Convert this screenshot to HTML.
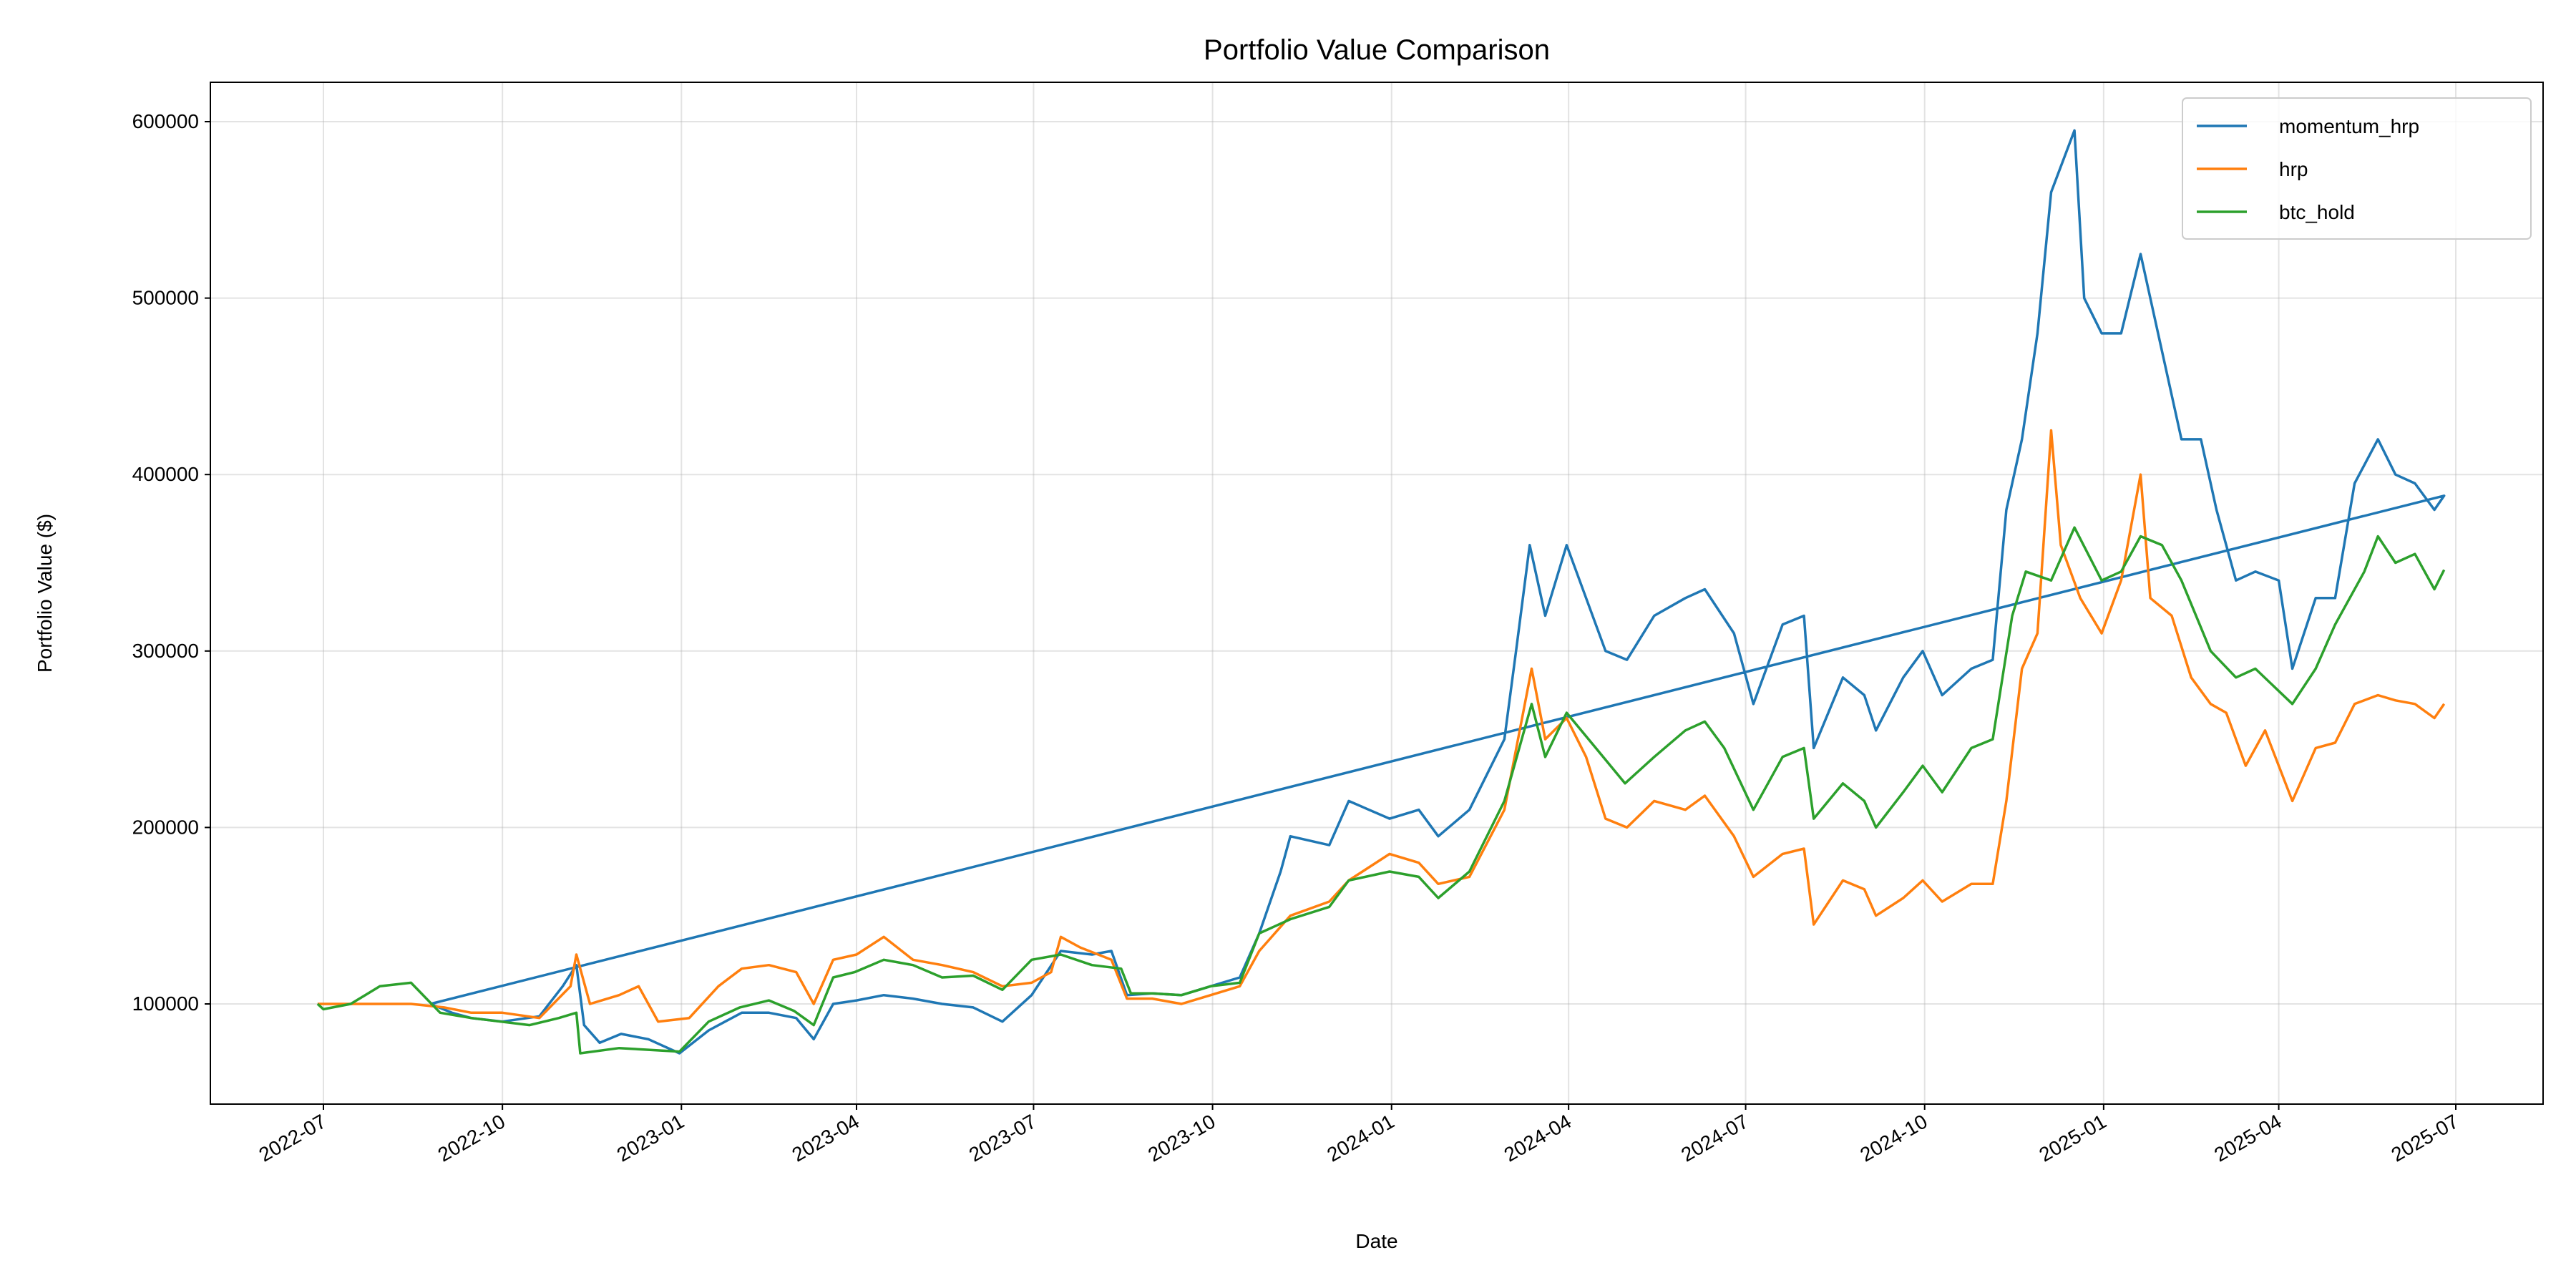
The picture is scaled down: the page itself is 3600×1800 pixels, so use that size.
<!DOCTYPE html>
<html><head><meta charset="utf-8"><style>
html,body{margin:0;padding:0;background:#fff;}
svg{display:block;font-family:"Liberation Sans","DejaVu Sans",sans-serif;}
</style></head><body>
<svg id="chart" width="3600" height="1800" viewBox="0 0 3600 1800" xmlns="http://www.w3.org/2000/svg">
<rect width="3600" height="1800" fill="#fff"/>
<text x="1924" y="83" font-size="40" text-anchor="middle">Portfolio Value Comparison</text>
<text x="1924" y="1744" font-size="28" text-anchor="middle">Date</text>
<text transform="translate(72,829) rotate(-90)" font-size="28" text-anchor="middle">Portfolio Value ($)</text>
<g id="grid"></g><g id="series"></g><g id="axes"></g>
<g>
<rect x="3050" y="137" width="487" height="197" fill="#fff" fill-opacity="0.8" stroke="#ccc" stroke-width="2" rx="6"/>
<line x1="3070" y1="176" x2="3140" y2="176" stroke="#1f77b4" stroke-width="3.5"/>
<text x="3185" y="186" font-size="28">momentum_hrp</text>
<line x1="3070" y1="236" x2="3140" y2="236" stroke="#ff7f0e" stroke-width="3.5"/>
<text x="3185" y="246" font-size="28">hrp</text>
<line x1="3070" y1="296" x2="3140" y2="296" stroke="#2ca02c" stroke-width="3.5"/>
<text x="3185" y="306" font-size="28">btc_hold</text>
</g>
</svg>
<script>
const btcDates=["2022-06-28","2022-07-01","2022-07-15","2022-07-30","2022-08-15","2022-08-30","2022-09-15","2022-09-30","2022-10-15","2022-10-30","2022-11-08","2022-11-10","2022-11-30","2022-12-15","2022-12-31","2023-01-15","2023-01-31","2023-02-15","2023-02-28","2023-03-10","2023-03-20","2023-03-31","2023-04-15","2023-04-30","2023-05-15","2023-05-31","2023-06-15","2023-06-30","2023-07-15","2023-07-31","2023-08-15","2023-08-20","2023-08-31","2023-09-15","2023-09-30","2023-10-15","2023-10-25","2023-11-10","2023-11-30","2023-12-10","2023-12-31","2024-01-15","2024-01-25","2024-02-10","2024-02-28","2024-03-13","2024-03-20","2024-03-31","2024-04-15","2024-04-30","2024-05-15","2024-05-31","2024-06-10","2024-06-20","2024-07-05","2024-07-20","2024-07-31","2024-08-05","2024-08-20","2024-08-31","2024-09-06","2024-09-20","2024-09-30","2024-10-10","2024-10-25","2024-11-05","2024-11-15","2024-11-22","2024-12-05","2024-12-17","2024-12-31","2025-01-10","2025-01-20","2025-01-31","2025-02-10","2025-02-25","2025-03-10","2025-03-20","2025-04-08","2025-04-20","2025-04-30","2025-05-15","2025-05-22","2025-05-31","2025-06-10","2025-06-20","2025-06-25"];
const btcValues=[100,97,100,110,112,95,92,90,88,92,95,72,75,74,73,90,98,102,96,88,115,118,125,122,115,116,108,125,128,122,120,106,106,105,110,112,140,148,155,170,175,172,160,175,215,270,240,265,245,225,240,255,260,245,210,240,245,205,225,215,200,220,235,220,245,250,320,345,340,370,340,345,365,360,340,300,285,290,270,290,315,345,365,350,355,335,346];
const hrpDates=["2022-06-28","2022-07-01","2022-08-15","2022-09-01","2022-09-15","2022-10-01","2022-10-20","2022-11-05","2022-11-08","2022-11-15","2022-11-30","2022-12-10","2022-12-20","2023-01-05","2023-01-20","2023-02-01","2023-02-15","2023-03-01","2023-03-10","2023-03-20","2023-04-01","2023-04-15","2023-04-30","2023-05-15","2023-05-31","2023-06-15","2023-06-30","2023-07-10","2023-07-15","2023-07-25","2023-08-10","2023-08-18","2023-08-31","2023-09-15","2023-09-30","2023-10-15","2023-10-25","2023-11-10","2023-11-30","2023-12-10","2023-12-31","2024-01-15","2024-01-25","2024-02-10","2024-02-28","2024-03-13","2024-03-20","2024-03-31","2024-04-10","2024-04-20","2024-05-01","2024-05-15","2024-05-31","2024-06-10","2024-06-25","2024-07-05","2024-07-20","2024-07-31","2024-08-05","2024-08-20","2024-08-31","2024-09-06","2024-09-20","2024-09-30","2024-10-10","2024-10-25","2024-11-05","2024-11-12","2024-11-20","2024-11-28","2024-12-05","2024-12-10","2024-12-20","2024-12-31","2025-01-10","2025-01-20","2025-01-25","2025-02-05","2025-02-15","2025-02-25","2025-03-05","2025-03-15","2025-03-25","2025-04-08","2025-04-20","2025-04-30","2025-05-10","2025-05-22","2025-05-31","2025-06-10","2025-06-20","2025-06-25"];
const hrpValues=[100,100,100,98,95,95,92,110,128,100,105,110,90,92,110,120,122,118,100,125,128,138,125,122,118,110,112,118,138,132,125,103,103,100,105,110,130,150,158,170,185,180,168,172,210,290,250,262,240,205,200,215,210,218,195,172,185,188,145,170,165,150,160,170,158,168,168,215,290,310,425,360,330,310,340,400,330,320,285,270,265,235,255,215,245,248,270,275,272,270,262,270];
const momDates=["2022-08-25","2022-09-05","2022-09-15","2022-10-01","2022-10-20","2022-11-01","2022-11-08","2022-11-12","2022-11-20","2022-12-01","2022-12-15","2022-12-31","2023-01-15","2023-02-01","2023-02-15","2023-03-01","2023-03-10","2023-03-20","2023-04-01","2023-04-15","2023-04-30","2023-05-15","2023-05-31","2023-06-15","2023-06-30","2023-07-15","2023-07-31","2023-08-10","2023-08-18","2023-08-31","2023-09-15","2023-09-30","2023-10-15","2023-10-25","2023-11-05","2023-11-10","2023-11-30","2023-12-10","2023-12-31","2024-01-15","2024-01-25","2024-02-10","2024-02-28","2024-03-05","2024-03-12","2024-03-20","2024-03-31","2024-04-10","2024-04-20","2024-05-01","2024-05-15","2024-05-31","2024-06-10","2024-06-25","2024-07-05","2024-07-20","2024-07-31","2024-08-05","2024-08-20","2024-08-31","2024-09-06","2024-09-20","2024-09-30","2024-10-10","2024-10-25","2024-11-05","2024-11-12","2024-11-20","2024-11-28","2024-12-05","2024-12-17","2024-12-22","2024-12-31","2025-01-10","2025-01-20","2025-01-31","2025-02-10","2025-02-20","2025-02-28","2025-03-10","2025-03-20","2025-04-01","2025-04-08","2025-04-20","2025-04-30","2025-05-10","2025-05-22","2025-05-31","2025-06-10","2025-06-20","2025-06-25","2022-08-25"];
const momValues=[100,95,92,90,93,110,122,88,78,83,80,72,85,95,95,92,80,100,102,105,103,100,98,90,105,130,128,130,105,106,105,110,115,140,175,195,190,215,205,210,195,210,250,300,360,320,360,330,300,295,320,330,335,310,270,315,320,245,285,275,255,285,300,275,290,295,380,420,480,560,595,500,480,480,525,470,420,420,380,340,345,340,290,330,330,395,420,400,395,380,388,100];
const yTicks=[100000,200000,300000,400000,500000,600000];
const xTicks=["2022-07","2022-10","2023-01","2023-04","2023-07","2023-10","2024-01","2024-04","2024-07","2024-10","2025-01","2025-04","2025-07"];

const L=294,R=3554,T=115,B=1543;
const NS="http://www.w3.org/2000/svg";
const d0=Date.UTC(2022,6,1),d1=Date.UTC(2025,6,1);
function xs(s){const p=s.split('-').map(Number);const t=Date.UTC(p[0],p[1]-1,p[2]||1);return 452+(t-d0)/(d1-d0)*(3432-452);}
function ys(v){return 1403-(v-100000)/500000*(1403-170);}
function mk(tag,attrs,parent){const e=document.createElementNS(NS,tag);for(const k in attrs)e.setAttribute(k,attrs[k]);parent.appendChild(e);return e;}
const grid=document.getElementById('grid'),axes=document.getElementById('axes'),ser=document.getElementById('series');
yTicks.forEach(v=>{const y=ys(v);
 const g=mk('line',{x1:L,x2:R,y1:y,y2:y,stroke:'#b0b0b0','stroke-opacity':0.35,'stroke-width':2},grid);
 
 
 mk('line',{x1:L-8,x2:L,y1:y,y2:y,stroke:'#000','stroke-width':2},axes);
 const t=mk('text',{x:L-16,y:y+9,'font-size':28,'text-anchor':'end'},axes);t.textContent=v;
 
 
});
xTicks.forEach(s=>{const x=xs(s);
 const g=mk('line',{x1:x,x2:x,y1:T,y2:B,stroke:'#b0b0b0','stroke-opacity':0.35,'stroke-width':2},grid);
 
 
 mk('line',{x1:x,x2:x,y1:B,y2:B+8,stroke:'#000','stroke-width':2},axes);
 const t=mk('text',{x:x+6,y:B+30,'font-size':28,'text-anchor':'end',transform:`rotate(-30 ${x+6} ${B+30})`},axes);t.textContent=s;
 
 
});
function line(dates,vals,color,name){
 const pts=dates.map((d,i)=>xs(d).toFixed(1)+','+ys(vals[i]*1000).toFixed(1)).join(' ');
 const p=mk('polyline',{points:pts,fill:'none',stroke:color,'stroke-width':3.5,'stroke-linejoin':'round'},ser);
 
 
}
line(momDates,momValues,'#1f77b4','momentum-hrp-line');
line(hrpDates,hrpValues,'#ff7f0e','hrp-line');
line(btcDates,btcValues,'#2ca02c','btc-hold-line');
const f=mk('rect',{x:L,y:T,width:R-L,height:B-T,fill:'none',stroke:'#000','stroke-width':2},axes);


</script>
</body></html>
